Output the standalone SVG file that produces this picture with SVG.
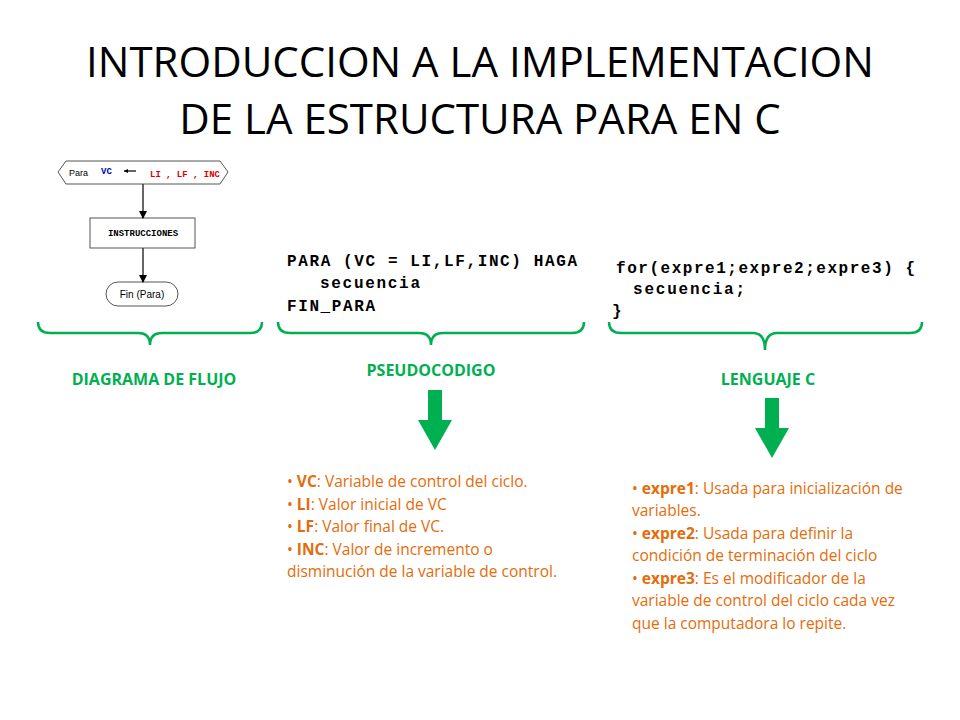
<svg xmlns="http://www.w3.org/2000/svg" width="960" height="720" viewBox="0 0 960 720">
<style>
.t{font-family:"Open Sans","Liberation Sans",sans-serif;font-size:42px;fill:#000;text-anchor:middle}
.m{font-family:"Liberation Mono",monospace;font-size:16px;font-weight:bold;fill:#000}
.g{font-family:"Open Sans","Liberation Sans",sans-serif;font-size:16px;font-weight:bold;fill:#00B050;text-anchor:middle}
.o{font-family:"Open Sans","Liberation Sans",sans-serif;font-size:15.5px;fill:#E46C0A}
.b{font-weight:bold}
.br{fill:none;stroke:#00B050;stroke-width:2.5}
.fc{fill:#fff;stroke:#555;stroke-width:1}
.ln{stroke:#333;stroke-width:1.5}
</style>
<defs><marker id="ah" markerWidth="8" markerHeight="8" refX="7" refY="4" orient="auto" markerUnits="userSpaceOnUse"><path d="M0,0 L8,4 L0,8 z" fill="#000"/></marker></defs>
<rect width="960" height="720" fill="#fff"/>
<g id="title"><text class="t" x="480" y="77">INTRODUCCION A LA IMPLEMENTACION</text><text class="t" x="480" y="134">DE LA ESTRUCTURA PARA EN C</text></g>
<g id="flow">
<polygon class="fc" points="58,172 66,161 220,161 228,172 220,184 66,184"/>
<text x="69" y="176" font-family="Liberation Sans,sans-serif" font-size="9">Para</text>
<text x="101" y="174" font-family="Liberation Mono,monospace" font-size="9" font-weight="bold" fill="#0000cc">VC</text>
<line x1="124" y1="171" x2="136" y2="171" stroke="#000" stroke-width="1.2"/><path d="M124,171 l4,-2 v4z" fill="#000"/>
<text x="150" y="177" font-family="Liberation Mono,monospace" font-size="9" font-weight="bold" fill="#dd0000">LI</text>
<text x="166" y="177" font-family="Liberation Mono,monospace" font-size="9" font-weight="bold" fill="#dd0000">, LF , INC</text>
<rect class="fc" x="90" y="218" width="105" height="30"/>
<text x="143" y="236" font-family="Liberation Mono,monospace" font-size="9" font-weight="bold" text-anchor="middle">INSTRUCCIONES</text>
<rect class="fc" x="106" y="282" width="72" height="24" rx="12"/>
<text x="142" y="298" font-family="Liberation Sans,sans-serif" font-size="10" text-anchor="middle">Fin (Para)</text>
</g>
<g id="connectors">
<line class="ln" x1="143" y1="184" x2="143" y2="218" marker-end="url(#ah)"/>
<line class="ln" x1="143" y1="248" x2="143" y2="282" marker-end="url(#ah)"/>
<path class="br" d="M38,322 Q38,333 50,333 L138,333 Q150,333 150,345 Q150,333 162,333 L250,333 Q262,333 262,322"/>
<path class="br" d="M278,322 Q278,333 290,333 L419,333 Q431,333 431,345 Q431,333 443,333 L572,333 Q584,333 584,322"/>
<path class="br" d="M609,322 Q609,333 621,333 L753,333 Q765,333 765,350 Q765,333 777,333 L910,333 Q922,333 922,322"/>
<path d="M428,390 h14 v30 h10 l-17,30 l-17,-30 h10z" fill="#00B050"/>
<path d="M765,398 h14 v30 h10 l-17,30 l-17,-30 h10z" fill="#00B050"/>
</g>
<g id="pseudo">
<text class="m" x="287" y="266" textLength="290" lengthAdjust="spacing">PARA (VC = LI,LF,INC) HAGA</text>
<text class="m" x="320" y="288" textLength="100" lengthAdjust="spacing">secuencia</text>
<text class="m" x="287" y="311" textLength="88" lengthAdjust="spacing">FIN_PARA</text>
</g>
<g id="ccode">
<text class="m" x="616" y="273" textLength="299" lengthAdjust="spacing">for(expre1;expre2;expre3) {</text>
<text class="m" x="633" y="294" textLength="112" lengthAdjust="spacing">secuencia;</text>
<text class="m" x="612" y="316">}</text>
</g>
<g id="labels">
<text class="g" x="154" y="385">DIAGRAMA DE FLUJO</text>
<text class="g" x="431" y="376">PSEUDOCODIGO</text>
<text class="g" x="768" y="385">LENGUAJE C</text>
</g>
<g id="notes1">
<text class="o" x="287" y="487">•  <tspan class="b">VC</tspan>: Variable de control del ciclo.</text>
<text class="o" x="287" y="510">•  <tspan class="b">LI</tspan>: Valor inicial de VC</text>
<text class="o" x="287" y="532">•  <tspan class="b">LF</tspan>: Valor final de VC.</text>
<text class="o" x="287" y="555">•  <tspan class="b">INC</tspan>: Valor de incremento o</text>
<text class="o" x="287" y="577">disminución de la variable de control.</text>
</g>
<g id="notes2">
<text class="o" x="632" y="494">•  <tspan class="b">expre1</tspan>: Usada para inicialización de</text>
<text class="o" x="632" y="516">variables.</text>
<text class="o" x="632" y="539">•  <tspan class="b">expre2</tspan>: Usada para definir la</text>
<text class="o" x="632" y="561">condición de terminación del ciclo</text>
<text class="o" x="632" y="584">•  <tspan class="b">expre3</tspan>: Es el modificador de la</text>
<text class="o" x="632" y="606">variable de control del ciclo cada vez</text>
<text class="o" x="632" y="629">que la computadora lo repite.</text>
</g>
</svg>
